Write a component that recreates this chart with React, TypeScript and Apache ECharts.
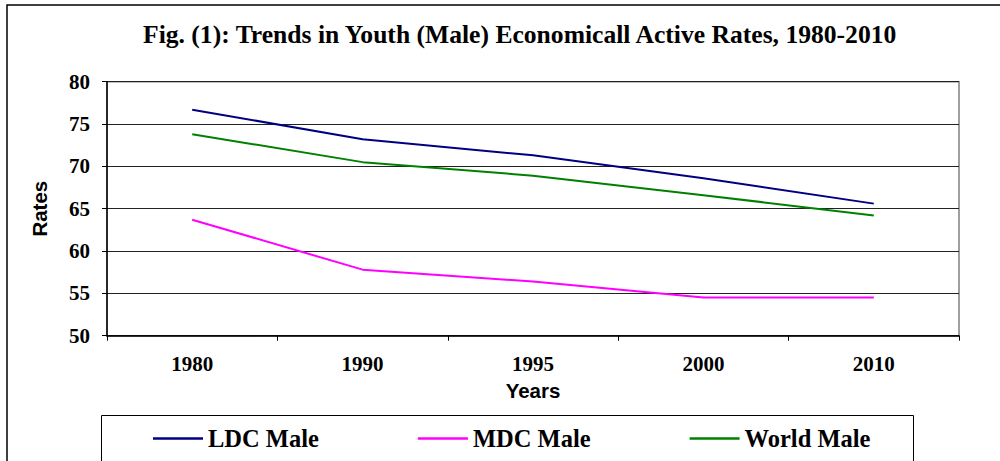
import React, { useEffect, useRef } from "react";
import * as echarts from "echarts";

const years = ["1980", "1990", "1995", "2000", "2010"];
const ldcMale = [76.7, 73.2, 71.3, 68.6, 65.6];
const mdcMale = [63.7, 57.8, 56.4, 54.5, 54.5];
const worldMale = [73.8, 70.5, 68.9, 66.6, 64.2];
const seriesNames = ["LDC Male", "MDC Male", "World Male"];
const seriesColors = ["#000080", "#FF00FF", "#008000"];

const SERIF = "Liberation Serif";
const SANS = "Liberation Sans";

export default function App() {
  const ref = useRef<HTMLDivElement>(null);
  useEffect(() => {
    if (!ref.current) return;
    const chart = echarts.init(ref.current, null, { renderer: "svg" });
    const data = [ldcMale, mdcMale, worldMale];
    chart.setOption({
      animation: false,
      backgroundColor: "#ffffff",
      textStyle: { fontFamily: SERIF, fontWeight: "bold", color: "#000" },
      title: {
        text: "Fig. (1): Trends in Youth (Male) Economicall Active Rates, 1980-2010",
        left: 143,
        top: 21,
        padding: 0,
        textStyle: { fontFamily: SERIF, fontSize: 25.6, fontWeight: "bold", color: "#000" },
      },
      graphic: [
        {
          type: "rect",
          shape: { x: 7, y: 5, width: 1200, height: 700 },
          style: { fill: "none", stroke: "#000", lineWidth: 1.5 },
          silent: true,
        },
        {
          type: "rect",
          shape: { x: 101.5, y: 415.5, width: 812, height: 100 },
          style: { fill: "none", stroke: "#000", lineWidth: 1 },
          silent: true,
        },
      ],
      legend: {
        data: seriesNames,
        left: 153,
        top: 426,
        padding: 0,
        itemGap: 99,
        itemWidth: 50,
        itemHeight: 2.5,
        icon: "rect",
        textStyle: { fontFamily: SERIF, fontSize: 24.5, fontWeight: "bold", color: "#000" },
      },
      grid: {
        left: 107,
        right: 41,
        top: 81.7,
        bottom: 125.3,
        show: true,
        borderColor: "#808080",
        borderWidth: 1.5,
        containLabel: false,
      },
      xAxis: {
        type: "category",
        data: years,
        boundaryGap: true,
        name: "Years",
        nameLocation: "middle",
        nameGap: 42,
        nameTextStyle: { fontFamily: SANS, fontSize: 20.5, fontWeight: "bold", color: "#000" },
        axisLine: { show: true, lineStyle: { color: "#000", width: 1.5 } },
        axisTick: { show: true, length: 5, inside: false, lineStyle: { color: "#000" } },
        axisLabel: { margin: 18, fontFamily: SERIF, fontSize: 21, fontWeight: "bold", color: "#000" },
        splitLine: { show: false },
      },
      yAxis: {
        type: "value",
        min: 50,
        max: 80,
        interval: 5,
        name: "Rates",
        nameLocation: "middle",
        nameRotate: 90,
        nameGap: 57,
        nameTextStyle: { fontFamily: SANS, fontSize: 20.5, fontWeight: "bold", color: "#000" },
        axisLine: { show: true, lineStyle: { color: "#000", width: 1.5 } },
        axisTick: { show: true, length: 5, lineStyle: { color: "#000" } },
        axisLabel: { margin: 17, fontFamily: SERIF, fontSize: 21, fontWeight: "bold", color: "#000" },
        splitLine: { show: true, lineStyle: { color: "#222", width: 1 } },
      },
      series: seriesNames.map((name, i) => ({
        name,
        type: "line",
        data: data[i],
        symbol: "none",
        showSymbol: false,
        lineStyle: { color: seriesColors[i], width: 2 },
        itemStyle: { color: seriesColors[i] },
      })),
    });
    return () => chart.dispose();
  }, []);
  return (
    <div
      ref={ref}
      style={{ position: "fixed", left: 0, top: 0, width: 1000, height: 461 }}
    />
  );
}
